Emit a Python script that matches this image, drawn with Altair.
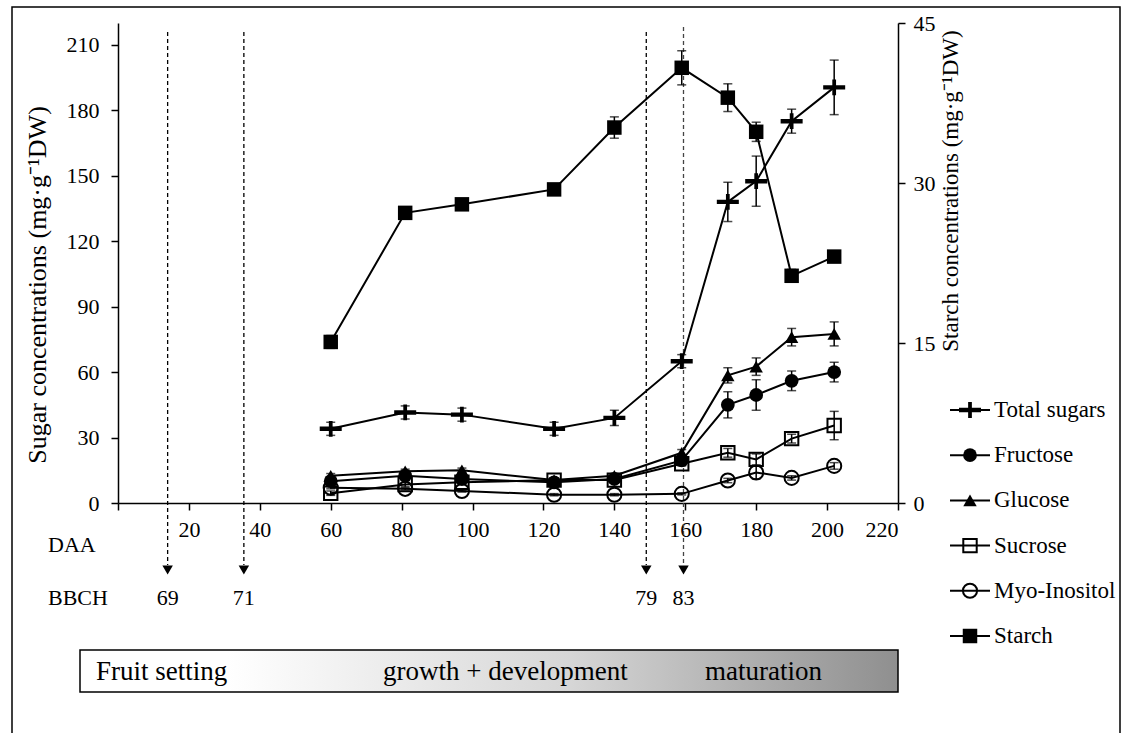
import altair as alt
import pandas as pd

# ---------------- data ----------------
daa = [60, 81, 97, 123, 140, 159, 172, 180, 190, 202]

series_names = ["Total sugars", "Fructose", "Glucose", "Sucrose", "Myo-Inositol", "Starch"]

total_sugars = [34, 41.5, 40.5, 34, 39, 65, 138, 147.5, 175, 190.5]
total_sugars_err = [3, 3, 3, 3, 3.5, 3, 9, 11.5, 5.5, 12.5]
fructose = [10, 12.5, 11, 9.5, 11, 19.5, 45, 49.5, 56, 60]
fructose_err = [1, 1, 1, 1, 1, 1.5, 6, 7, 4.5, 4.5]
glucose = [12.5, 14.5, 15, 10.5, 12.5, 23, 58.5, 62.5, 76, 77.5]
glucose_err = [1, 1, 1, 1, 1, 1.5, 3.5, 4, 4, 5.5]
sucrose = [4.5, 8.5, 9.5, 10.5, 10.5, 18, 23, 20, 29.5, 35.5]
sucrose_err = [1, 1, 1, 1, 1, 1, 2, 2.5, 2, 6.5]
myo_inositol = [7, 6.5, 5.5, 3.8, 3.8, 4.2, 10.3, 14, 11.5, 17]
myo_inositol_err = [0.5, 0.5, 0.5, 0.5, 0.5, 0.5, 1, 3, 1, 1.5]
starch = [15.1, 27.2, 28.0, 29.4, 35.2, 40.8, 38.0, 34.8, 21.3, 23.1]
starch_err = [0.6, 0.4, 0.4, 0.4, 1.0, 1.6, 1.3, 0.9, 0.6, 0.4]

stage_daa = [14, 35.5, 149, 159.5]
stage_bbch = ["69", "71", "79", "83"]

x_ticks = [0, 20, 40, 60, 80, 100, 120, 140, 160, 180, 200, 220]
sugar_ticks = [0, 30, 60, 90, 120, 150, 180, 210]
starch_ticks = [0, 15, 30, 45]
phase_labels = ["Fruit setting", "growth + development", "maturation"]

FONT = "'Liberation Serif', 'Times New Roman', Times, serif"
FS = 22

sugar_series = {
    "Total sugars": (total_sugars, total_sugars_err),
    "Fructose": (fructose, fructose_err),
    "Glucose": (glucose, glucose_err),
    "Sucrose": (sucrose, sucrose_err),
    "Myo-Inositol": (myo_inositol, myo_inositol_err),
}

rows = []
for name, (vals, errs) in sugar_series.items():
    for d, v, e in zip(daa, vals, errs):
        rows.append({"series": name, "daa": d, "val": v, "lo": v - e, "hi": v + e})
sugar_df = pd.DataFrame(rows)
starch_df = pd.DataFrame({
    "series": "Starch", "daa": daa, "val": starch,
    "lo": [v - e for v, e in zip(starch, starch_err)],
    "hi": [v + e for v, e in zip(starch, starch_err)],
})
stage_df = pd.DataFrame({"daa": stage_daa, "bbch": stage_bbch, "i": list(range(len(stage_daa)))})
legend_df = pd.DataFrame({"series": series_names, "idx": list(range(len(series_names)))})
one = pd.DataFrame({"k": [0]})

PLUS = "M-1,-0.2H1V0.2H-1Z M-0.17,-0.72H0.17V0.72H-0.17Z"
styles = {
    "Total sugars": dict(shape=PLUS, filled=True, size=484, color="black", strokeWidth=0),
    "Fructose": dict(shape="circle", filled=True, size=190, color="black"),
    "Glucose": dict(shape="triangle-up", filled=True, size=180, color="black"),
    "Sucrose": dict(shape="square", filled=False, size=180, color="black", strokeWidth=2),
    "Myo-Inositol": dict(shape="circle", filled=False, size=200, color="black", strokeWidth=2),
    "Starch": dict(shape="square", filled=True, size=210, color="black"),
}

# ---------------- encodings ----------------
x_scale = alt.Scale(domain=[0, 220], nice=False, zero=False)
x_axis = alt.Axis(values=x_ticks, title=None, grid=False, tickSize=7, labelPadding=9,
                  labelExpr="datum.value == 0 ? '' : datum.label")
def X(field="daa"):
    return alt.X(f"{field}:Q", scale=x_scale, axis=x_axis)

sugar_scale = alt.Scale(domain=[0, 220], nice=False, zero=True)
sugar_axis = alt.Axis(orient="left", values=sugar_ticks, title=None, grid=False,
                      tickSize=7, labelPadding=12)
starch_scale = alt.Scale(domain=[0, 45], nice=False, zero=True)
starch_axis = alt.Axis(orient="right", values=starch_ticks, title=None, grid=False,
                       tickSize=7, labelPadding=8)

def group(df, scale, axis, names):
    Y = lambda f: alt.Y(f"{f}:Q", scale=scale, axis=axis)
    base = alt.Chart(df)
    layers = [
        base.mark_line(color="black", strokeWidth=2).encode(x=X(), y=Y("val"), detail="series:N"),
        base.mark_rule(color="black", strokeWidth=1.5).encode(x=X(), y=Y("lo"), y2="hi:Q"),
        base.mark_tick(color="black", orient="horizontal", size=9, thickness=1.5).encode(x=X(), y=Y("lo")),
        base.mark_tick(color="black", orient="horizontal", size=9, thickness=1.5).encode(x=X(), y=Y("hi")),
    ]
    for n in names:
        layers.append(
            base.transform_filter(alt.datum.series == n)
            .mark_point(opacity=1, **styles[n])
            .encode(x=X(), y=Y("val"))
        )
    return alt.layer(*layers)

sugar_group = group(sugar_df, sugar_scale, sugar_axis, list(sugar_series.keys()))
starch_group = group(starch_df, starch_scale, starch_axis, ["Starch"])

# ---------------- annotations ----------------
frame = alt.Chart(one).mark_rect(filled=False, stroke="black", strokeWidth=1.5).encode(
    x=alt.value(-106), x2=alt.value(1002), y=alt.value(-16), y2=alt.value(745))

gradient = alt.LinearGradient(
    gradient="linear", x1=0, x2=1, y1=0, y2=0,
    stops=[alt.GradientStop(offset=0, color="#ffffff"),
           alt.GradientStop(offset=0.18, color="#ffffff"),
           alt.GradientStop(offset=0.6, color="#d6d6d6"),
           alt.GradientStop(offset=1, color="#8f8f8f")])
phase_box = alt.Chart(one).mark_rect(fill=gradient, stroke="black", strokeWidth=1.5).encode(
    x=alt.value(-38), x2=alt.value(780), y=alt.value(627), y2=alt.value(669))

txt = dict(font=FONT, fontSize=FS, color="black")
ptxt = dict(font=FONT, fontSize=27, color="black")
phase_text = alt.layer(
    alt.Chart(one).mark_text(align="left", baseline="middle", text=phase_labels[0], **ptxt)
    .encode(x=alt.value(-22), y=alt.value(649)),
    alt.Chart(one).mark_text(align="left", baseline="middle", text=phase_labels[1], **ptxt)
    .encode(x=alt.value(265), y=alt.value(649)),
    alt.Chart(one).mark_text(align="left", baseline="middle", text=phase_labels[2], **ptxt)
    .encode(x=alt.value(587), y=alt.value(649)),
)

stage_base = alt.Chart(stage_df)
stage_lines = stage_base.transform_filter(alt.datum.i < 3).mark_rule(
    color="black", strokeWidth=1.3, strokeDash=[4, 3]).encode(
    x=X(), y=alt.value(9), y2=alt.value(542))
stage_line4 = stage_base.transform_filter(alt.datum.i == 3).mark_rule(
    color="#444444", strokeWidth=1.3, strokeDash=[4, 3]).encode(
    x=X(), y=alt.value(4), y2=alt.value(542))
arrows = stage_base.mark_point(shape="triangle-down", filled=True, size=110, color="black", opacity=1).encode(
    x=X(), y=alt.value(547))
bbch_text = stage_base.mark_text(baseline="middle", **txt).encode(
    x=X(), y=alt.value(575), text="bbch:N")

row_labels = alt.layer(
    alt.Chart(one).mark_text(align="left", baseline="middle", text="DAA", **txt)
    .encode(x=alt.value(-70), y=alt.value(522)),
    alt.Chart(one).mark_text(align="left", baseline="middle", text="BBCH", **txt)
    .encode(x=alt.value(-70), y=alt.value(575)),
)

titles = alt.layer(
    alt.Chart(one).mark_text(angle=270, baseline="middle", text="Sugar concentrations (mg·g⁻¹DW)",
                             font=FONT, fontSize=26, color="black")
    .encode(x=alt.value(-80), y=alt.value(262)),
    alt.Chart(one).mark_text(angle=270, baseline="middle", text="Starch concentrations (mg·g⁻¹DW)",
                             font=FONT, fontSize=23, color="black")
    .encode(x=alt.value(833), y=alt.value(168)),
)

annot_group = alt.layer(frame, phase_box, phase_text, stage_lines, stage_line4, arrows,
                        bbch_text, row_labels, titles)

# ---------------- legend ----------------
LY = alt.Y("idx:Q", scale=alt.Scale(domain=[0, 5], range=[387, 613]), axis=None)
lbase = alt.Chart(legend_df)
leg_layers = [
    lbase.mark_rule(color="black", strokeWidth=2).encode(x=alt.value(832), x2=alt.value(872), y=LY),
]
for n in series_names:
    leg_layers.append(
        lbase.transform_filter(alt.datum.series == n).mark_point(opacity=1, **styles[n])
        .encode(x=alt.value(852), y=LY))
leg_layers.append(lbase.mark_text(align="left", baseline="middle", font=FONT, fontSize=23, color="black")
                  .encode(x=alt.value(876), y=LY, text="series:N"))
legend_group = alt.layer(*leg_layers)

chart = alt.layer(annot_group, sugar_group, starch_group, legend_group).resolve_scale(
    y="independent"
).properties(
    width=780, height=480,
    autosize=alt.AutoSizeParams(type="none"),
    padding={"left": 118, "top": 23, "right": 228, "bottom": 230},
    background="white",
).configure_view(stroke=None).configure_axis(
    domainColor="black", domainWidth=1.5, tickColor="black", tickWidth=1.5,
    labelFont=FONT, labelFontSize=FS, labelColor="black",
)

chart.save("out.html", embed_options={"renderer": "svg", "actions": False})
